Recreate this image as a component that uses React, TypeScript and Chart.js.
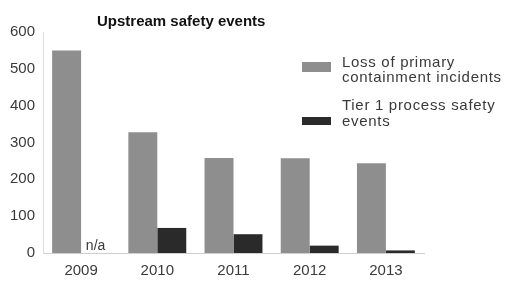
import React, { useEffect, useRef } from "react";
import { Chart, registerables } from "chart.js";

Chart.register(...registerables);

const categories = ["2009", "2010", "2011", "2012", "2013"];
const lossOfContainment = [550, 328, 258, 257, 244];
const tier1Events: (number | null)[] = [null, 68, 51, 20, 7];
const yTicks = [0, 100, 200, 300, 400, 500, 600];
const titleText = "Upstream safety events";
const legendLabels = [
  ["Loss of primary", "containment incidents"],
  ["Tier 1 process safety", "events"],
];
const naLabel = "n/a";

const GRAY = "#8e8e8e";
const DARK = "#2a2a2a";
const TEXT = "#3a3a3a";
const FONT = "'Liberation Sans', Arial, sans-serif";

const overlayPlugin = {
  id: "overlay",
  afterDraw(chart: any) {
    const ctx = chart.ctx;
    ctx.save();
    // title
    ctx.fillStyle = "#111";
    ctx.font = `bold 15px ${FONT}`;
    ctx.textBaseline = "alphabetic";
    ctx.textAlign = "left";
    ctx.fillText(titleText, 97, 26);
    // legend
    const colors = [GRAY, DARK];
    const swY = [62, 117];
    const swH = [10, 8];
    const lineY = [[67, 82], [110, 126]];
    ctx.font = `15px ${FONT}`;
    (ctx as any).letterSpacing = "0.7px";
    legendLabels.forEach((lines, i) => {
      ctx.fillStyle = colors[i];
      ctx.fillRect(302, swY[i], 29, swH[i]);
      ctx.fillStyle = TEXT;
      lines.forEach((l, j) => ctx.fillText(l, 342, lineY[i][j]));
    });
    // n/a label for missing value
    const meta = chart.getDatasetMeta(1);
    const el = meta.data[0];
    const y0 = chart.scales.y.getPixelForValue(0);
    ctx.font = `14px ${FONT}`;
    (ctx as any).letterSpacing = "0px";
    ctx.textAlign = "center";
    ctx.fillStyle = TEXT;
    if (el) ctx.fillText(naLabel, el.x, y0 - 3);
    ctx.restore();
  },
};

export default function App() {
  const ref = useRef<HTMLCanvasElement>(null);
  useEffect(() => {
    if (!ref.current) return;
    const chart = new Chart(ref.current, {
      type: "bar",
      data: {
        labels: categories,
        datasets: [
          {
            label: legendLabels[0].join(" "),
            data: lossOfContainment,
            backgroundColor: GRAY,
            barPercentage: 1,
            categoryPercentage: 0.76,
          },
          {
            label: legendLabels[1].join(" "),
            data: tier1Events,
            backgroundColor: DARK,
            barPercentage: 1,
            categoryPercentage: 0.76,
          },
        ],
      },
      options: {
        animation: false,
        responsive: false,
        layout: { padding: { top: 32, right: 87, left: 0, bottom: 0 } },
        plugins: {
          legend: { display: false },
          title: { display: false },
          tooltip: { enabled: false },
        },
        scales: {
          x: {
            grid: { display: false, drawTicks: false },
            border: { display: true, color: "#cfcfcf", dash: [1, 2] },
            ticks: { color: TEXT, font: { size: 15, family: FONT }, padding: 9 },
            afterFit: (s: any) => {
              s.height = 31;
            },
          },
          y: {
            min: 0,
            max: 600,
            afterBuildTicks: (s: any) => {
              s.ticks = yTicks.map((v) => ({ value: v }));
            },
            grid: { display: false, drawTicks: false },
            border: { display: true, color: "#dcdcdc", dash: [1, 3] },
            ticks: { color: TEXT, font: { size: 15, family: FONT }, padding: 8 },
            afterFit: (s: any) => {
              s.width = 43;
            },
          },
        },
      },
      plugins: [overlayPlugin],
    });
    return () => chart.destroy();
  }, []);
  return (
    <div style={{ position: "absolute", left: 0, top: 0, width: 511, height: 284, background: "#fff" }}>
      <canvas ref={ref} width={511} height={284} style={{ display: "block" }} />
    </div>
  );
}
